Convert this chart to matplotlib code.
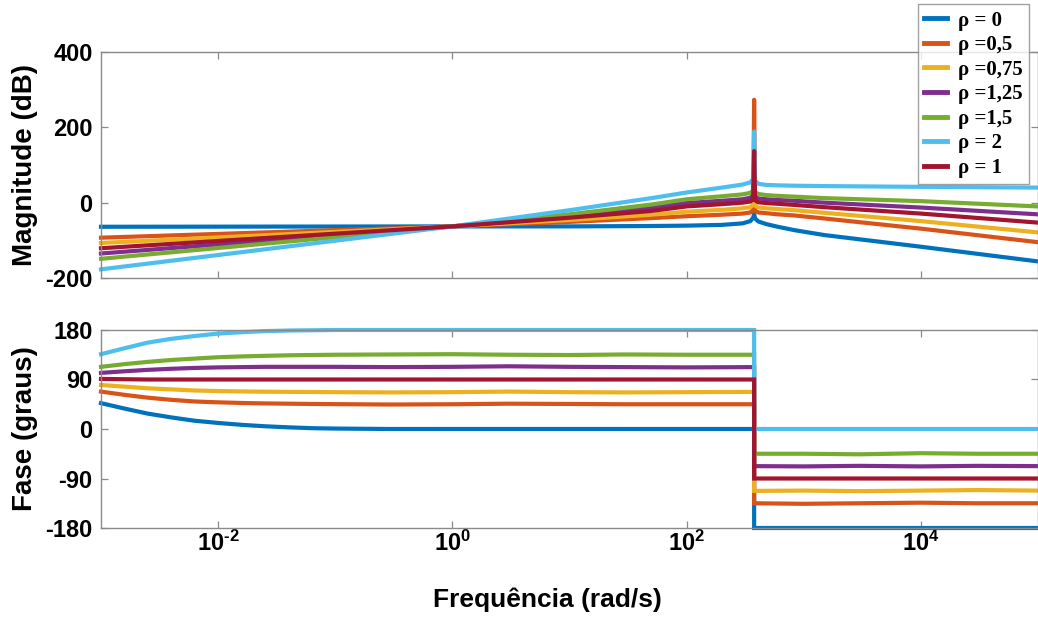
"""Bode plot (magnitude and phase) for several values of rho."""
import matplotlib
matplotlib.use("Agg")
import matplotlib.pyplot as plt
from matplotlib.ticker import FixedLocator, NullLocator

plt.rcParams["font.family"] = ["Liberation Sans", "DejaVu Sans"]
plt.rcParams["mathtext.fontset"] = "custom"
plt.rcParams["mathtext.rm"] = "Liberation Sans:bold"
plt.rcParams["mathtext.bf"] = "Liberation Sans:bold"

# legend order as in the figure
LABELS = ["\u03c1 = 0", "\u03c1 =0,5", "\u03c1 =0,75", "\u03c1 =1,25",
          "\u03c1 =1,5", "\u03c1 = 2", "\u03c1 = 1"]
COLORS = ["#0072BD", "#D95319", "#EDB120", "#7E2F8E", "#77AC30", "#4DBEEE", "#A2142F"]

# magnitude (dB)
w_mag = [1e-3, 1, 10, 50, 100, 200, 300, 350, 370, 377, 384, 410, 480, 600, 832,
         1500, 1e4, 1e5]
mag_r0 = [-64, -63, -63, -62, -61, -59, -55, -49, -40, -30, -42, -50, -57, -64, -73,
          -86, -117, -156]
mag_r05 = [-93, -63, -51, -41, -36, -32, -29, -26, -19, 273, -22, -26, -28, -31, -34,
           -42, -69, -105]
mag_r075 = [-107, -63, -46, -32, -24, -19, -15, -12, -5, 60, -8, -13, -15, -17, -20,
            -27, -49, -79]
mag_r125 = [-135, -63, -36, -13, -1, 5, 9, 13, 20, 90, 16, 11, 9, 7, 5,
            0, -13, -31]
mag_r15 = [-149, -63, -31, -5, 9, 17, 22, 26, 33, 110, 28, 23, 20, 18, 16,
           12, 4, -10]
mag_r2 = [-177, -63, -20, 12, 27, 40, 48, 54, 63, 189, 58, 50, 47, 46, 45,
          44, 42, 40]
mag_r1 = [-121, -63, -40, -22, -10, -4, 0, 3, 9, 137, 6, 1, -1, -3, -6,
          -12, -29, -53]

# phase (degrees)
w_ph = [1e-3, 1.6e-3, 2.5e-3, 4e-3, 6.3e-3, 1e-2, 1.6e-2, 2.5e-2, 4e-2, 6.3e-2,
        0.1, 0.3, 1, 3, 10, 30, 100, 377,
        377, 1e3, 3e3, 1e4, 3e4, 1e5]
ph_r0 = [47, 37, 28, 21, 15, 11, 7.5, 5, 3, 1.5,
         0.8, 0, 0, 0, 0, 0, 0, 0,
         -180, -180, -180, -180, -180, -180]
ph_r05 = [68, 62, 57, 53, 50, 48.5, 47.3, 46.5, 46, 45.5,
          45.2, 44.5, 45, 46, 45.5, 45, 45, 45,
          -135, -136, -135, -134, -135, -135]
ph_r075 = [80, 77, 74, 72, 70, 69, 68.3, 67.8, 67.5, 67.3,
           67, 66.5, 67, 68, 67, 66.5, 67, 67.5,
           -112.5, -112, -113, -112, -111, -112]
ph_r125 = [102, 105, 107.5, 109.5, 111, 112, 112.5, 113, 113, 113,
           113, 112.5, 113, 114, 113, 112.5, 112, 112.5,
           -67.5, -68, -67, -68, -67, -67.5]
ph_r15 = [113, 118, 122, 125.5, 128, 130.5, 132, 133, 134, 134.5,
          135, 135.5, 136, 135, 134.5, 135.5, 135, 135,
          -45, -45, -46, -44, -45, -45]
ph_r2 = [136, 147, 157, 164, 169, 173.5, 176, 178, 179, 179.5,
         180, 180, 180, 180, 180, 180, 180, 180,
         0, 0, 0, 0, 0, 0]
ph_r1 = [91, 90.5, 90, 90, 90, 90, 90, 90, 90, 90,
         90, 90, 90, 90, 90, 90, 90, 90,
         -90, -90, -90, -90, -90, -90]

MAGS = [mag_r0, mag_r05, mag_r075, mag_r125, mag_r15, mag_r2, mag_r1]
PHASES = [ph_r0, ph_r05, ph_r075, ph_r125, ph_r15, ph_r2, ph_r1]

SPINE = "#8a8a8a"
LW = 3.0


def style_axes(ax, yticks, ylim):
    ax.set_xscale("log")
    ax.set_xlim(1e-3, 1e5)
    ax.set_ylim(*ylim)
    ax.xaxis.set_major_locator(FixedLocator([1e-2, 1e0, 1e2, 1e4]))
    ax.xaxis.set_minor_locator(NullLocator())
    ax.set_yticks(yticks)
    ax.set_yticklabels([str(t) for t in yticks])
    for s in ax.spines.values():
        s.set_color(SPINE)
        s.set_linewidth(1.0)
    ax.tick_params(direction="in", length=5, width=0.9, color=SPINE,
                   top=True, right=True, labelsize=17, pad=6)
    for lab in ax.get_yticklabels():
        lab.set_fontweight("bold")


def main():
    fig = plt.figure(figsize=(10.38, 6.19), dpi=100)

    ax1 = fig.add_axes([0.0973, 0.5509, 0.9027, 0.3651])
    ax2 = fig.add_axes([0.0973, 0.1470, 0.9027, 0.3199])

    handles = []
    for mag, col, lab in zip(MAGS, COLORS, LABELS):
        h, = ax1.plot(w_mag, mag, color=col, lw=LW, label=lab, clip_on=False,
                      solid_joinstyle="round")
        handles.append(h)
    for ph, col in zip(PHASES, COLORS):
        ax2.plot(w_ph, ph, color=col, lw=LW, clip_on=False, solid_joinstyle="miter")

    style_axes(ax1, [-200, 0, 200, 400], (-200, 400))
    style_axes(ax2, [-180, -90, 0, 90, 180], (-180, 180))
    ax1.set_xticklabels([])
    ax2.set_xticklabels([r"$\mathbf{10^{\text{-}2}}$", r"$\mathbf{10^{0}}$",
                         r"$\mathbf{10^{2}}$", r"$\mathbf{10^{4}}$"])
    ax2.tick_params(axis="x", labelsize=17, pad=2)

    ax1.set_ylabel("Magnitude (dB)", fontsize=20, fontweight="bold")
    ax2.set_ylabel("Fase (graus)", fontsize=20, fontweight="bold")
    ax1.yaxis.set_label_coords(-0.067, 0.5)
    ax2.yaxis.set_label_coords(-0.067, 0.5)
    ax2.set_xlabel("Frequência (rad/s)", fontsize=19, fontweight="bold")
    ax2.xaxis.set_label_coords(0.476, -0.30)

    leg = fig.legend(handles=handles, loc="upper right", bbox_to_anchor=(0.991, 0.993),
                     prop={"family": "Liberation Serif", "weight": "bold", "size": 15},
                     frameon=True, fancybox=False, edgecolor="#8a8a8a",
                     handlelength=1.1, handletextpad=0.5, labelspacing=0.22,
                     borderpad=0.3, borderaxespad=0.0)
    leg.get_frame().set_linewidth(1.0)
    for line in leg.get_lines():
        line.set_linewidth(3.5)

    fig.savefig("out.png", dpi=100, facecolor="white")
    plt.close(fig)


if __name__ == "__main__":
    main()
